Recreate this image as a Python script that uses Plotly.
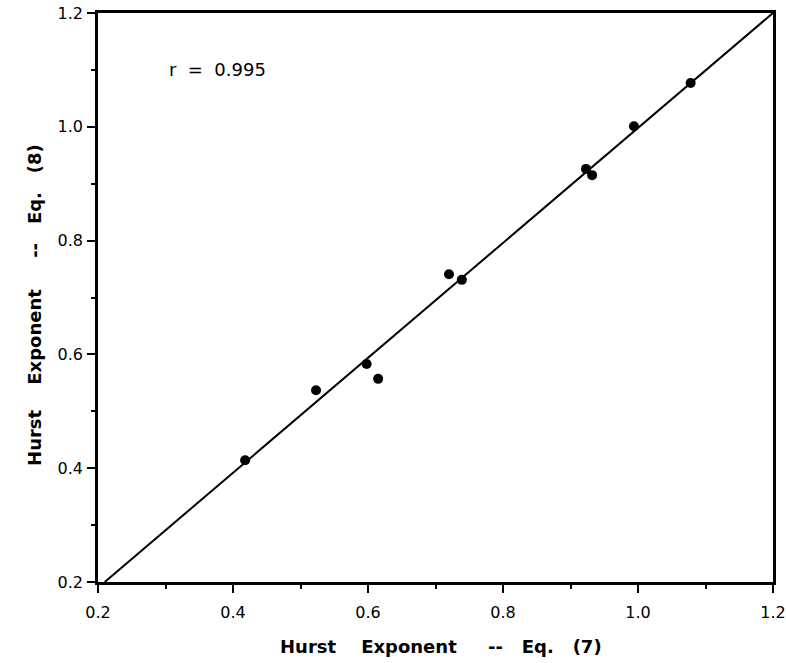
import plotly.graph_objects as go

x_eq7 = [0.418, 0.523, 0.598, 0.615, 0.720, 0.739, 0.923, 0.932, 0.994, 1.078]
y_eq8 = [0.414, 0.537, 0.583, 0.557, 0.741, 0.731, 0.926, 0.915, 1.001, 1.077]
line_x = [0.21, 1.2]
line_y = [0.2, 1.2]
tick_vals = [0.2, 0.4, 0.6, 0.8, 1.0, 1.2]
tick_text = ["0.2", "0.4", "0.6", "0.8", "1.0", "1.2"]
minor_vals = [0.3, 0.5, 0.7, 0.9, 1.1]

fig = go.Figure()
fig.add_trace(go.Scatter(x=line_x, y=line_y, mode="lines",
                         line=dict(color="black", width=2), showlegend=False))
fig.add_trace(go.Scatter(x=x_eq7, y=y_eq8, mode="markers",
                         marker=dict(color="black", size=10), showlegend=False))

tfont = dict(family="DejaVu Sans, sans-serif", size=16, color="black")
axis_common = dict(
    range=[0.2, 1.2], tickvals=tick_vals, ticktext=tick_text,
    showgrid=False, zeroline=False, showline=True, linecolor="black", linewidth=2.5,
    mirror=True, ticks="outside", ticklen=8, tickwidth=2, tickcolor="black",
    tickfont=tfont, automargin=False,
    minor=dict(tickvals=minor_vals, ticks="outside", ticklen=4,
               tickwidth=2, tickcolor="black", showgrid=False),
)

sp = "&nbsp;"
title_font = dict(family="DejaVu Sans, sans-serif", size=18, color="black")

def axis_title(n):
    return ("<b>Hurst" + sp * 4 + "Exponent" + sp * 5 + "--" + sp * 3 +
            "Eq." + sp * 3 + "(" + n + ")</b>")

fig.update_layout(
    width=786, height=663,
    margin=dict(l=98, r=13, t=13, b=81),
    plot_bgcolor="white", paper_bgcolor="white",
    xaxis=dict(**axis_common, ticklabelstandoff=6),
    yaxis=dict(**axis_common, ticklabelstandoff=1),
    annotations=[
        dict(x=0.302, y=1.10, xref="x", yref="y", text="r" + sp * 2 + "=" + sp * 2 + "0.995",
             showarrow=False, xanchor="left", yanchor="middle",
             font=dict(family="DejaVu Sans, sans-serif", size=18, color="black")),
        dict(x=0.508, y=-0.1142, xref="paper", yref="paper", text=axis_title("7"),
             showarrow=False, xanchor="center", yanchor="middle", font=title_font),
        dict(x=-0.0933, y=0.487, xref="paper", yref="paper", text=axis_title("8"),
             showarrow=False, xanchor="center", yanchor="middle", textangle=-90,
             font=title_font),
    ],
)

fig.write_html("out.html", config={"displayModeBar": False},
               post_script="document.body.style.margin='0';document.body.style.overflow='hidden';")
